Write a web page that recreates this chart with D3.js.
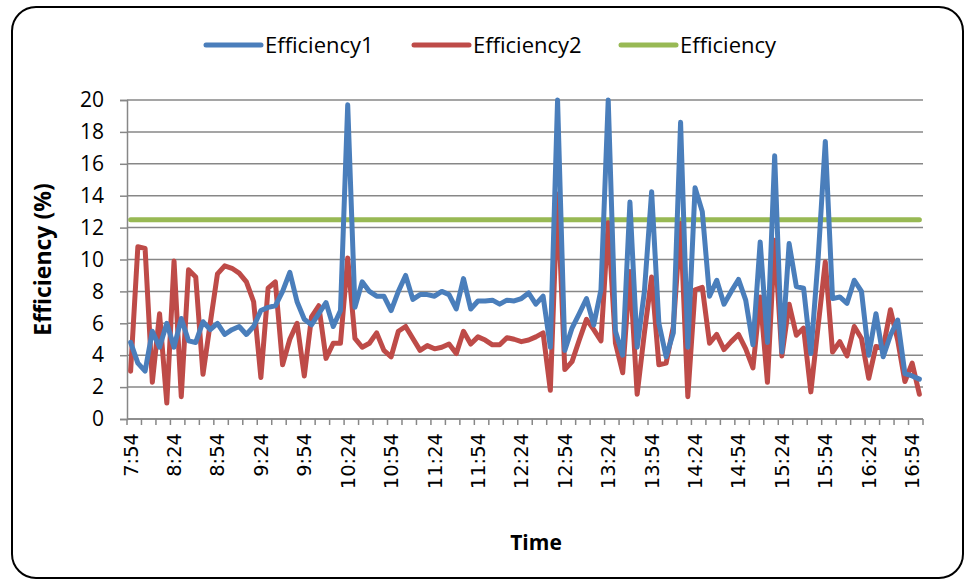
<!DOCTYPE html>
<html>
<head>
<meta charset="utf-8">
<script src="https://cdn.jsdelivr.net/npm/d3@7"></script>
<style>
  body { margin: 0; background: #fff; }
</style>
</head>
<body>
<svg id="chart" width="964" height="580"></svg>
<script>
// Readings every 5 minutes, 7:54 .. 16:59
const efficiency1 = [
  4.8, 3.5, 3.0, 5.5, 4.5, 6.0, 4.5, 6.3, 4.9, 4.8,
  6.1, 5.6, 6.0, 5.3, 5.6, 5.8, 5.3, 5.8, 6.8, 7.0,
  7.1, 8.0, 9.2, 7.35, 6.25, 5.9, 6.6, 7.3, 5.8, 6.8,
  19.7, 7.0, 8.6, 8.0, 7.7, 7.7, 6.8, 8.0, 9.0, 7.5,
  7.8, 7.8, 7.7, 8.0, 7.8, 6.9, 8.8, 6.9, 7.4, 7.4,
  7.45, 7.2, 7.45, 7.4, 7.55, 7.9, 7.2, 7.7, 4.5, 20.0,
  4.3, 5.7, 6.6, 7.55, 5.9, 8.1, 20.0, 5.5, 4.0, 13.6,
  4.5, 8.0, 14.25, 6.0, 3.9, 5.4, 18.6, 4.5, 14.5, 13.0,
  7.7, 8.7, 7.2, 8.0, 8.75, 7.45, 4.65, 11.1, 4.8, 16.5,
  4.2, 11.0, 8.3, 8.2, 4.1, 10.0, 17.4, 7.55, 7.65, 7.25,
  8.7, 8.0, 4.0, 6.6, 3.9, 5.25, 6.2, 2.85, 2.7, 2.5
];
const efficiency2 = [
  3.0, 10.8, 10.7, 2.3, 6.6, 1.0, 9.9, 1.4, 9.35, 8.9,
  2.8, 6.0, 9.1, 9.6, 9.45, 9.15, 8.6, 7.35, 2.6, 8.2,
  8.6, 3.4, 5.0, 6.0, 2.7, 6.4, 7.1, 3.8, 4.75, 4.75,
  10.1, 5.05, 4.5, 4.75, 5.4, 4.3, 3.9, 5.5, 5.8, 5.05,
  4.3, 4.6, 4.4, 4.5, 4.7, 4.1, 5.5, 4.7, 5.15, 4.95,
  4.65, 4.65, 5.1, 5.0, 4.85, 4.95, 5.15, 5.4, 1.8, 14.1,
  3.1, 3.6, 4.95, 6.25, 5.6, 4.9, 12.3, 4.75, 2.9, 9.25,
  1.55, 5.4, 8.9, 3.4, 3.5, 5.8, 12.25, 1.4, 8.1, 8.25,
  4.75, 5.3, 4.35, 4.85, 5.3, 4.4, 3.2, 7.65, 2.3, 11.2,
  3.95, 7.2, 5.25, 5.7, 1.7, 5.8, 9.85, 4.2, 4.85, 3.95,
  5.8, 5.05, 2.55, 4.55, 4.45, 6.85, 4.95, 2.35, 3.5, 1.55
];
const targetEfficiency = 12.5;
const tickLabels = ["7:54", "8:24", "8:54", "9:24", "9:54", "10:24", "10:54", "11:24", "11:54",
  "12:24", "12:54", "13:24", "13:54", "14:24", "14:54", "15:24", "15:54", "16:24", "16:54"];
const yTicks = [0, 2, 4, 6, 8, 10, 12, 14, 16, 18, 20];

// Category labels for every reading
const times = efficiency1.map((d, i) => {
  const m = 7 * 60 + 54 + 5 * i;
  return Math.floor(m / 60) + ":" + String(m % 60).padStart(2, "0");
});

const series = [
  {name: "Efficiency1", color: "#4a7ebb", values: efficiency1},
  {name: "Efficiency2", color: "#be4b48", values: efficiency2},
  {name: "Efficiency", color: "#98b954", values: times.map(() => targetEfficiency)}
];

const svg = d3.select("#chart");
const margins = {top: 100, right: 41, bottom: 161, left: 127};
const width = 964, height = 580;

// Outer rounded frame
svg.append("rect")
  .attr("x", 12).attr("y", 7)
  .attr("width", 951).attr("height", 571)
  .attr("rx", 24)
  .attr("fill", "#fff")
  .attr("stroke", "#000")
  .attr("stroke-width", 2);

const x = d3.scaleBand()
  .domain(times)
  .range([margins.left, width - margins.right]);

const y = d3.scaleLinear()
  .domain([0, 20])
  .range([height - margins.bottom, margins.top]);

// Horizontal gridlines
svg.append("g")
  .selectAll("line")
  .data(yTicks)
  .join("line")
    .attr("x1", margins.left)
    .attr("x2", width - margins.right)
    .attr("y1", d => y(d))
    .attr("y2", d => y(d))
    .attr("stroke", "#878787")
    .attr("stroke-width", 1.5);

// Y axis
const yGroup = svg.append("g")
    .attr("transform", `translate(${margins.left},0)`)
  .call(d3.axisLeft(y).tickValues(yTicks).tickSize(7).tickPadding(16))
  .call(g => g.selectAll("line, path").attr("stroke", "#878787").attr("stroke-width", 1.5))
  .call(g => g.selectAll("text")
    .style("font-family", "'Open Sans', sans-serif")
    .style("font-size", "21px")
    .attr("fill", "#000"));

// X axis: tick marks every two readings, labels every six
const tickEdges = times.filter((d, i) => i % 2 === 0);
const xGroup = svg.append("g")
  .attr("transform", `translate(0,${height - margins.bottom})`);

xGroup.append("line")
  .attr("x1", margins.left).attr("x2", width - margins.right)
  .attr("stroke", "#878787").attr("stroke-width", 1.5);

xGroup.selectAll("line.tick")
  .data(tickEdges.concat([null]))
  .join("line")
    .attr("class", "tick")
    .attr("x1", d => d === null ? width - margins.right : x(d))
    .attr("x2", d => d === null ? width - margins.right : x(d))
    .attr("y1", 0).attr("y2", 6)
    .attr("stroke", "#878787").attr("stroke-width", 1.5);

xGroup.selectAll("text")
  .data(tickLabels)
  .join("text")
    .attr("transform", d => `translate(${x(d) + x.bandwidth() / 2 + 7},14) rotate(-90)`)
    .attr("text-anchor", "end")
    .style("font-family", "'DejaVu Sans', sans-serif")
    .style("font-size", "19.5px")
    .text(d => d);

// Axis titles
svg.append("text")
  .attr("transform", `translate(51,${(y(0) + y(20)) / 2}) rotate(-90)`)
  .attr("text-anchor", "middle")
  .style("font-family", "'Open Sans', sans-serif")
  .style("font-weight", "bold")
  .style("font-size", "23px")
  .text("Efficiency (%)");

svg.append("text")
  .attr("x", 536).attr("y", 550)
  .attr("text-anchor", "middle")
  .style("font-family", "'Open Sans', sans-serif")
  .style("font-weight", "bold")
  .style("font-size", "21px")
  .text("Time");

// Lines
const line = d3.line()
  .x((d, i) => x(times[i]) + x.bandwidth() / 2)
  .y(d => y(d));

svg.append("g")
  .selectAll("path")
  .data(series.slice().reverse())
  .join("path")
    .attr("d", d => line(d.values))
    .attr("fill", "none")
    .attr("stroke", d => d.color)
    .attr("stroke-width", 5)
    .attr("stroke-linejoin", "round")
    .attr("stroke-linecap", "round");

// Legend
const legendX = [206, 414, 621];
const legend = svg.append("g")
  .selectAll("g")
  .data(series)
  .join("g")
    .attr("transform", (d, i) => `translate(${legendX[i]},45)`);

legend.append("line")
  .attr("x1", 0).attr("x2", 55)
  .attr("stroke", d => d.color)
  .attr("stroke-width", 5)
  .attr("stroke-linecap", "round");

legend.append("text")
  .attr("x", 59)
  .attr("dy", "0.35em")
  .style("font-family", "'Open Sans', sans-serif")
  .style("font-size", "22px")
  .text(d => d.name);
</script>
</body>
</html>
